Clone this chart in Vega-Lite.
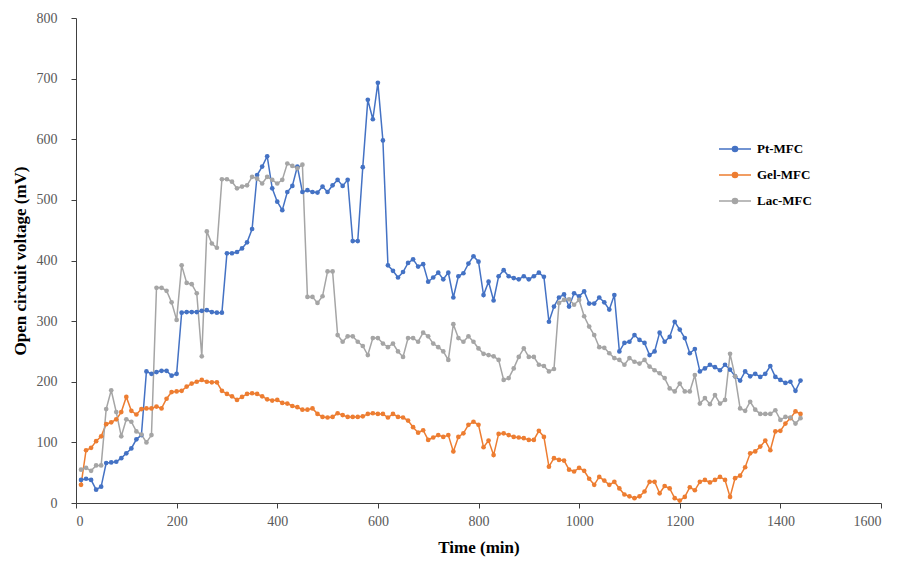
{
  "$schema": "https://vega.github.io/schema/vega-lite/v6.json",
  "width": 805,
  "height": 485,
  "autosize": {"type": "none"},
  "padding": {"left": 76, "top": 18, "right": 20, "bottom": 62},
  "background": "white",
  "config": {
    "view": {"stroke": null},
    "font": "Liberation Serif",
    "axis": {
      "grid": false,
      "domainColor": "#404040",
      "tickColor": "#404040",
      "labelFont": "Liberation Serif",
      "labelFontSize": 14,
      "labelColor": "#595959",
      "titleFont": "Liberation Serif",
      "titleFontSize": 17,
      "titleFontWeight": "bold",
      "titleColor": "#000000",
      "tickSize": 5
    }
  },
  "datasets": {
    "ocv": [
      {"t":10,"s":"Pt-MFC","v":38},{"t":20,"s":"Pt-MFC","v":40},{"t":30,"s":"Pt-MFC","v":38},{"t":40,"s":"Pt-MFC","v":22},{"t":50,"s":"Pt-MFC","v":27},
      {"t":60,"s":"Pt-MFC","v":66},{"t":70,"s":"Pt-MFC","v":67},{"t":80,"s":"Pt-MFC","v":68},{"t":90,"s":"Pt-MFC","v":74},{"t":100,"s":"Pt-MFC","v":82},
      {"t":110,"s":"Pt-MFC","v":90},{"t":120,"s":"Pt-MFC","v":105},{"t":130,"s":"Pt-MFC","v":112},{"t":140,"s":"Pt-MFC","v":217},{"t":150,"s":"Pt-MFC","v":213},
      {"t":160,"s":"Pt-MFC","v":216},{"t":170,"s":"Pt-MFC","v":218},{"t":180,"s":"Pt-MFC","v":218},{"t":190,"s":"Pt-MFC","v":210},{"t":200,"s":"Pt-MFC","v":213},
      {"t":210,"s":"Pt-MFC","v":314},{"t":220,"s":"Pt-MFC","v":315},{"t":230,"s":"Pt-MFC","v":315},{"t":240,"s":"Pt-MFC","v":315},{"t":250,"s":"Pt-MFC","v":317},
      {"t":260,"s":"Pt-MFC","v":318},{"t":270,"s":"Pt-MFC","v":315},{"t":280,"s":"Pt-MFC","v":314},{"t":290,"s":"Pt-MFC","v":314},{"t":300,"s":"Pt-MFC","v":412},
      {"t":310,"s":"Pt-MFC","v":412},{"t":320,"s":"Pt-MFC","v":414},{"t":330,"s":"Pt-MFC","v":420},{"t":340,"s":"Pt-MFC","v":430},{"t":350,"s":"Pt-MFC","v":452},
      {"t":360,"s":"Pt-MFC","v":541},{"t":370,"s":"Pt-MFC","v":555},{"t":380,"s":"Pt-MFC","v":572},{"t":390,"s":"Pt-MFC","v":519},{"t":400,"s":"Pt-MFC","v":497},
      {"t":410,"s":"Pt-MFC","v":483},{"t":420,"s":"Pt-MFC","v":513},{"t":430,"s":"Pt-MFC","v":523},{"t":440,"s":"Pt-MFC","v":555},{"t":450,"s":"Pt-MFC","v":513},
      {"t":460,"s":"Pt-MFC","v":516},{"t":470,"s":"Pt-MFC","v":513},{"t":480,"s":"Pt-MFC","v":512},{"t":490,"s":"Pt-MFC","v":522},{"t":500,"s":"Pt-MFC","v":513},
      {"t":510,"s":"Pt-MFC","v":524},{"t":520,"s":"Pt-MFC","v":533},{"t":530,"s":"Pt-MFC","v":523},{"t":540,"s":"Pt-MFC","v":533},{"t":550,"s":"Pt-MFC","v":432},
      {"t":560,"s":"Pt-MFC","v":432},{"t":570,"s":"Pt-MFC","v":554},{"t":580,"s":"Pt-MFC","v":665},{"t":590,"s":"Pt-MFC","v":633},{"t":600,"s":"Pt-MFC","v":693},
      {"t":610,"s":"Pt-MFC","v":598},{"t":620,"s":"Pt-MFC","v":392},{"t":630,"s":"Pt-MFC","v":383},{"t":640,"s":"Pt-MFC","v":372},{"t":650,"s":"Pt-MFC","v":381},
      {"t":660,"s":"Pt-MFC","v":396},{"t":670,"s":"Pt-MFC","v":402},{"t":680,"s":"Pt-MFC","v":390},{"t":690,"s":"Pt-MFC","v":394},{"t":700,"s":"Pt-MFC","v":365},
      {"t":710,"s":"Pt-MFC","v":372},{"t":720,"s":"Pt-MFC","v":380},{"t":730,"s":"Pt-MFC","v":369},{"t":740,"s":"Pt-MFC","v":380},{"t":750,"s":"Pt-MFC","v":339},
      {"t":760,"s":"Pt-MFC","v":374},{"t":770,"s":"Pt-MFC","v":379},{"t":780,"s":"Pt-MFC","v":395},{"t":790,"s":"Pt-MFC","v":407},{"t":800,"s":"Pt-MFC","v":398},
      {"t":810,"s":"Pt-MFC","v":343},{"t":820,"s":"Pt-MFC","v":365},{"t":830,"s":"Pt-MFC","v":334},{"t":840,"s":"Pt-MFC","v":374},{"t":850,"s":"Pt-MFC","v":384},
      {"t":860,"s":"Pt-MFC","v":374},{"t":870,"s":"Pt-MFC","v":371},{"t":880,"s":"Pt-MFC","v":369},{"t":890,"s":"Pt-MFC","v":374},{"t":900,"s":"Pt-MFC","v":369},
      {"t":910,"s":"Pt-MFC","v":374},{"t":920,"s":"Pt-MFC","v":380},{"t":930,"s":"Pt-MFC","v":373},{"t":940,"s":"Pt-MFC","v":299},{"t":950,"s":"Pt-MFC","v":324},
      {"t":960,"s":"Pt-MFC","v":339},{"t":970,"s":"Pt-MFC","v":344},{"t":980,"s":"Pt-MFC","v":324},{"t":990,"s":"Pt-MFC","v":346},{"t":1000,"s":"Pt-MFC","v":341},
      {"t":1010,"s":"Pt-MFC","v":349},{"t":1020,"s":"Pt-MFC","v":329},{"t":1030,"s":"Pt-MFC","v":329},{"t":1040,"s":"Pt-MFC","v":339},{"t":1050,"s":"Pt-MFC","v":331},
      {"t":1060,"s":"Pt-MFC","v":319},{"t":1070,"s":"Pt-MFC","v":343},{"t":1080,"s":"Pt-MFC","v":250},{"t":1090,"s":"Pt-MFC","v":264},{"t":1100,"s":"Pt-MFC","v":266},
      {"t":1110,"s":"Pt-MFC","v":277},{"t":1120,"s":"Pt-MFC","v":269},{"t":1130,"s":"Pt-MFC","v":264},{"t":1140,"s":"Pt-MFC","v":244},{"t":1150,"s":"Pt-MFC","v":250},
      {"t":1160,"s":"Pt-MFC","v":281},{"t":1170,"s":"Pt-MFC","v":266},{"t":1180,"s":"Pt-MFC","v":274},{"t":1190,"s":"Pt-MFC","v":299},{"t":1200,"s":"Pt-MFC","v":286},
      {"t":1210,"s":"Pt-MFC","v":272},{"t":1220,"s":"Pt-MFC","v":247},{"t":1230,"s":"Pt-MFC","v":254},{"t":1240,"s":"Pt-MFC","v":217},{"t":1250,"s":"Pt-MFC","v":222},
      {"t":1260,"s":"Pt-MFC","v":228},{"t":1270,"s":"Pt-MFC","v":224},{"t":1280,"s":"Pt-MFC","v":219},{"t":1290,"s":"Pt-MFC","v":228},{"t":1300,"s":"Pt-MFC","v":220},
      {"t":1310,"s":"Pt-MFC","v":209},{"t":1320,"s":"Pt-MFC","v":202},{"t":1330,"s":"Pt-MFC","v":217},{"t":1340,"s":"Pt-MFC","v":209},{"t":1350,"s":"Pt-MFC","v":213},
      {"t":1360,"s":"Pt-MFC","v":208},{"t":1370,"s":"Pt-MFC","v":213},{"t":1380,"s":"Pt-MFC","v":226},{"t":1390,"s":"Pt-MFC","v":208},{"t":1400,"s":"Pt-MFC","v":203},
      {"t":1410,"s":"Pt-MFC","v":198},{"t":1420,"s":"Pt-MFC","v":200},{"t":1430,"s":"Pt-MFC","v":185},{"t":1440,"s":"Pt-MFC","v":202},

      {"t":10,"s":"Gel-MFC","v":30},{"t":20,"s":"Gel-MFC","v":87},{"t":30,"s":"Gel-MFC","v":91},{"t":40,"s":"Gel-MFC","v":102},{"t":50,"s":"Gel-MFC","v":110},
      {"t":60,"s":"Gel-MFC","v":130},{"t":70,"s":"Gel-MFC","v":133},{"t":80,"s":"Gel-MFC","v":138},{"t":90,"s":"Gel-MFC","v":150},{"t":100,"s":"Gel-MFC","v":175},
      {"t":110,"s":"Gel-MFC","v":152},{"t":120,"s":"Gel-MFC","v":146},{"t":130,"s":"Gel-MFC","v":155},{"t":140,"s":"Gel-MFC","v":156},{"t":150,"s":"Gel-MFC","v":156},
      {"t":160,"s":"Gel-MFC","v":159},{"t":170,"s":"Gel-MFC","v":156},{"t":180,"s":"Gel-MFC","v":172},{"t":190,"s":"Gel-MFC","v":183},{"t":200,"s":"Gel-MFC","v":184},
      {"t":210,"s":"Gel-MFC","v":185},{"t":220,"s":"Gel-MFC","v":192},{"t":230,"s":"Gel-MFC","v":197},{"t":240,"s":"Gel-MFC","v":200},{"t":250,"s":"Gel-MFC","v":203},
      {"t":260,"s":"Gel-MFC","v":200},{"t":270,"s":"Gel-MFC","v":199},{"t":280,"s":"Gel-MFC","v":199},{"t":290,"s":"Gel-MFC","v":185},{"t":300,"s":"Gel-MFC","v":180},
      {"t":310,"s":"Gel-MFC","v":176},{"t":320,"s":"Gel-MFC","v":170},{"t":330,"s":"Gel-MFC","v":175},{"t":340,"s":"Gel-MFC","v":180},{"t":350,"s":"Gel-MFC","v":181},
      {"t":360,"s":"Gel-MFC","v":180},{"t":370,"s":"Gel-MFC","v":176},{"t":380,"s":"Gel-MFC","v":171},{"t":390,"s":"Gel-MFC","v":169},{"t":400,"s":"Gel-MFC","v":170},
      {"t":410,"s":"Gel-MFC","v":165},{"t":420,"s":"Gel-MFC","v":164},{"t":430,"s":"Gel-MFC","v":160},{"t":440,"s":"Gel-MFC","v":158},{"t":450,"s":"Gel-MFC","v":154},
      {"t":460,"s":"Gel-MFC","v":154},{"t":470,"s":"Gel-MFC","v":156},{"t":480,"s":"Gel-MFC","v":147},{"t":490,"s":"Gel-MFC","v":142},{"t":500,"s":"Gel-MFC","v":141},
      {"t":510,"s":"Gel-MFC","v":142},{"t":520,"s":"Gel-MFC","v":148},{"t":530,"s":"Gel-MFC","v":145},{"t":540,"s":"Gel-MFC","v":142},{"t":550,"s":"Gel-MFC","v":142},
      {"t":560,"s":"Gel-MFC","v":142},{"t":570,"s":"Gel-MFC","v":143},{"t":580,"s":"Gel-MFC","v":147},{"t":590,"s":"Gel-MFC","v":148},{"t":600,"s":"Gel-MFC","v":147},
      {"t":610,"s":"Gel-MFC","v":147},{"t":620,"s":"Gel-MFC","v":141},{"t":630,"s":"Gel-MFC","v":147},{"t":640,"s":"Gel-MFC","v":142},{"t":650,"s":"Gel-MFC","v":141},
      {"t":660,"s":"Gel-MFC","v":136},{"t":670,"s":"Gel-MFC","v":125},{"t":680,"s":"Gel-MFC","v":116},{"t":690,"s":"Gel-MFC","v":120},{"t":700,"s":"Gel-MFC","v":104},
      {"t":710,"s":"Gel-MFC","v":108},{"t":720,"s":"Gel-MFC","v":112},{"t":730,"s":"Gel-MFC","v":109},{"t":740,"s":"Gel-MFC","v":112},{"t":750,"s":"Gel-MFC","v":85},
      {"t":760,"s":"Gel-MFC","v":109},{"t":770,"s":"Gel-MFC","v":115},{"t":780,"s":"Gel-MFC","v":129},{"t":790,"s":"Gel-MFC","v":134},{"t":800,"s":"Gel-MFC","v":129},
      {"t":810,"s":"Gel-MFC","v":92},{"t":820,"s":"Gel-MFC","v":103},{"t":830,"s":"Gel-MFC","v":79},{"t":840,"s":"Gel-MFC","v":114},{"t":850,"s":"Gel-MFC","v":115},
      {"t":860,"s":"Gel-MFC","v":112},{"t":870,"s":"Gel-MFC","v":109},{"t":880,"s":"Gel-MFC","v":108},{"t":890,"s":"Gel-MFC","v":107},{"t":900,"s":"Gel-MFC","v":104},
      {"t":910,"s":"Gel-MFC","v":104},{"t":920,"s":"Gel-MFC","v":119},{"t":930,"s":"Gel-MFC","v":109},{"t":940,"s":"Gel-MFC","v":60},{"t":950,"s":"Gel-MFC","v":74},
      {"t":960,"s":"Gel-MFC","v":71},{"t":970,"s":"Gel-MFC","v":70},{"t":980,"s":"Gel-MFC","v":55},{"t":990,"s":"Gel-MFC","v":52},{"t":1000,"s":"Gel-MFC","v":58},
      {"t":1010,"s":"Gel-MFC","v":53},{"t":1020,"s":"Gel-MFC","v":40},{"t":1030,"s":"Gel-MFC","v":30},{"t":1040,"s":"Gel-MFC","v":43},{"t":1050,"s":"Gel-MFC","v":37},
      {"t":1060,"s":"Gel-MFC","v":30},{"t":1070,"s":"Gel-MFC","v":35},{"t":1080,"s":"Gel-MFC","v":24},{"t":1090,"s":"Gel-MFC","v":14},{"t":1100,"s":"Gel-MFC","v":11},
      {"t":1110,"s":"Gel-MFC","v":8},{"t":1120,"s":"Gel-MFC","v":11},{"t":1130,"s":"Gel-MFC","v":19},{"t":1140,"s":"Gel-MFC","v":35},{"t":1150,"s":"Gel-MFC","v":35},
      {"t":1160,"s":"Gel-MFC","v":16},{"t":1170,"s":"Gel-MFC","v":28},{"t":1180,"s":"Gel-MFC","v":24},{"t":1190,"s":"Gel-MFC","v":8},{"t":1200,"s":"Gel-MFC","v":4},
      {"t":1210,"s":"Gel-MFC","v":10},{"t":1220,"s":"Gel-MFC","v":26},{"t":1230,"s":"Gel-MFC","v":21},{"t":1240,"s":"Gel-MFC","v":35},{"t":1250,"s":"Gel-MFC","v":38},
      {"t":1260,"s":"Gel-MFC","v":34},{"t":1270,"s":"Gel-MFC","v":38},{"t":1280,"s":"Gel-MFC","v":43},{"t":1290,"s":"Gel-MFC","v":38},{"t":1300,"s":"Gel-MFC","v":10},
      {"t":1310,"s":"Gel-MFC","v":41},{"t":1320,"s":"Gel-MFC","v":45},{"t":1330,"s":"Gel-MFC","v":59},{"t":1340,"s":"Gel-MFC","v":82},{"t":1350,"s":"Gel-MFC","v":85},
      {"t":1360,"s":"Gel-MFC","v":93},{"t":1370,"s":"Gel-MFC","v":103},{"t":1380,"s":"Gel-MFC","v":87},{"t":1390,"s":"Gel-MFC","v":118},{"t":1400,"s":"Gel-MFC","v":119},
      {"t":1410,"s":"Gel-MFC","v":131},{"t":1420,"s":"Gel-MFC","v":140},{"t":1430,"s":"Gel-MFC","v":151},{"t":1440,"s":"Gel-MFC","v":147},

      {"t":10,"s":"Lac-MFC","v":55},{"t":20,"s":"Lac-MFC","v":58},{"t":30,"s":"Lac-MFC","v":53},{"t":40,"s":"Lac-MFC","v":62},{"t":50,"s":"Lac-MFC","v":62},
      {"t":60,"s":"Lac-MFC","v":155},{"t":70,"s":"Lac-MFC","v":186},{"t":80,"s":"Lac-MFC","v":150},{"t":90,"s":"Lac-MFC","v":110},{"t":100,"s":"Lac-MFC","v":138},
      {"t":110,"s":"Lac-MFC","v":134},{"t":120,"s":"Lac-MFC","v":118},{"t":130,"s":"Lac-MFC","v":113},{"t":140,"s":"Lac-MFC","v":100},{"t":150,"s":"Lac-MFC","v":112},
      {"t":160,"s":"Lac-MFC","v":355},{"t":170,"s":"Lac-MFC","v":355},{"t":180,"s":"Lac-MFC","v":350},{"t":190,"s":"Lac-MFC","v":331},{"t":200,"s":"Lac-MFC","v":302},
      {"t":210,"s":"Lac-MFC","v":392},{"t":220,"s":"Lac-MFC","v":363},{"t":230,"s":"Lac-MFC","v":361},{"t":240,"s":"Lac-MFC","v":346},{"t":250,"s":"Lac-MFC","v":242},
      {"t":260,"s":"Lac-MFC","v":448},{"t":270,"s":"Lac-MFC","v":428},{"t":280,"s":"Lac-MFC","v":421},{"t":290,"s":"Lac-MFC","v":534},{"t":300,"s":"Lac-MFC","v":534},
      {"t":310,"s":"Lac-MFC","v":530},{"t":320,"s":"Lac-MFC","v":519},{"t":330,"s":"Lac-MFC","v":522},{"t":340,"s":"Lac-MFC","v":524},{"t":350,"s":"Lac-MFC","v":538},
      {"t":360,"s":"Lac-MFC","v":535},{"t":370,"s":"Lac-MFC","v":527},{"t":380,"s":"Lac-MFC","v":538},{"t":390,"s":"Lac-MFC","v":533},{"t":400,"s":"Lac-MFC","v":527},
      {"t":410,"s":"Lac-MFC","v":533},{"t":420,"s":"Lac-MFC","v":560},{"t":430,"s":"Lac-MFC","v":556},{"t":440,"s":"Lac-MFC","v":552},{"t":450,"s":"Lac-MFC","v":558},
      {"t":460,"s":"Lac-MFC","v":340},{"t":470,"s":"Lac-MFC","v":340},{"t":480,"s":"Lac-MFC","v":330},{"t":490,"s":"Lac-MFC","v":341},{"t":500,"s":"Lac-MFC","v":382},
      {"t":510,"s":"Lac-MFC","v":382},{"t":520,"s":"Lac-MFC","v":277},{"t":530,"s":"Lac-MFC","v":266},{"t":540,"s":"Lac-MFC","v":275},{"t":550,"s":"Lac-MFC","v":275},
      {"t":560,"s":"Lac-MFC","v":266},{"t":570,"s":"Lac-MFC","v":259},{"t":580,"s":"Lac-MFC","v":244},{"t":590,"s":"Lac-MFC","v":272},{"t":600,"s":"Lac-MFC","v":272},
      {"t":610,"s":"Lac-MFC","v":263},{"t":620,"s":"Lac-MFC","v":257},{"t":630,"s":"Lac-MFC","v":263},{"t":640,"s":"Lac-MFC","v":250},{"t":650,"s":"Lac-MFC","v":241},
      {"t":660,"s":"Lac-MFC","v":272},{"t":670,"s":"Lac-MFC","v":272},{"t":680,"s":"Lac-MFC","v":266},{"t":690,"s":"Lac-MFC","v":281},{"t":700,"s":"Lac-MFC","v":275},
      {"t":710,"s":"Lac-MFC","v":263},{"t":720,"s":"Lac-MFC","v":257},{"t":730,"s":"Lac-MFC","v":250},{"t":740,"s":"Lac-MFC","v":236},{"t":750,"s":"Lac-MFC","v":295},
      {"t":760,"s":"Lac-MFC","v":272},{"t":770,"s":"Lac-MFC","v":266},{"t":780,"s":"Lac-MFC","v":275},{"t":790,"s":"Lac-MFC","v":266},{"t":800,"s":"Lac-MFC","v":255},
      {"t":810,"s":"Lac-MFC","v":246},{"t":820,"s":"Lac-MFC","v":244},{"t":830,"s":"Lac-MFC","v":242},{"t":840,"s":"Lac-MFC","v":236},{"t":850,"s":"Lac-MFC","v":203},
      {"t":860,"s":"Lac-MFC","v":206},{"t":870,"s":"Lac-MFC","v":222},{"t":880,"s":"Lac-MFC","v":241},{"t":890,"s":"Lac-MFC","v":255},{"t":900,"s":"Lac-MFC","v":241},
      {"t":910,"s":"Lac-MFC","v":241},{"t":920,"s":"Lac-MFC","v":228},{"t":930,"s":"Lac-MFC","v":226},{"t":940,"s":"Lac-MFC","v":217},{"t":950,"s":"Lac-MFC","v":221},
      {"t":960,"s":"Lac-MFC","v":330},{"t":970,"s":"Lac-MFC","v":335},{"t":980,"s":"Lac-MFC","v":336},{"t":990,"s":"Lac-MFC","v":327},{"t":1000,"s":"Lac-MFC","v":335},
      {"t":1010,"s":"Lac-MFC","v":308},{"t":1020,"s":"Lac-MFC","v":291},{"t":1030,"s":"Lac-MFC","v":277},{"t":1040,"s":"Lac-MFC","v":257},{"t":1050,"s":"Lac-MFC","v":256},
      {"t":1060,"s":"Lac-MFC","v":247},{"t":1070,"s":"Lac-MFC","v":239},{"t":1080,"s":"Lac-MFC","v":236},{"t":1090,"s":"Lac-MFC","v":228},{"t":1100,"s":"Lac-MFC","v":239},
      {"t":1110,"s":"Lac-MFC","v":233},{"t":1120,"s":"Lac-MFC","v":230},{"t":1130,"s":"Lac-MFC","v":236},{"t":1140,"s":"Lac-MFC","v":225},{"t":1150,"s":"Lac-MFC","v":219},
      {"t":1160,"s":"Lac-MFC","v":214},{"t":1170,"s":"Lac-MFC","v":206},{"t":1180,"s":"Lac-MFC","v":189},{"t":1190,"s":"Lac-MFC","v":184},{"t":1200,"s":"Lac-MFC","v":197},
      {"t":1210,"s":"Lac-MFC","v":184},{"t":1220,"s":"Lac-MFC","v":184},{"t":1230,"s":"Lac-MFC","v":211},{"t":1240,"s":"Lac-MFC","v":164},{"t":1250,"s":"Lac-MFC","v":173},
      {"t":1260,"s":"Lac-MFC","v":163},{"t":1270,"s":"Lac-MFC","v":178},{"t":1280,"s":"Lac-MFC","v":164},{"t":1290,"s":"Lac-MFC","v":170},{"t":1300,"s":"Lac-MFC","v":246},
      {"t":1310,"s":"Lac-MFC","v":209},{"t":1320,"s":"Lac-MFC","v":156},{"t":1330,"s":"Lac-MFC","v":152},{"t":1340,"s":"Lac-MFC","v":167},{"t":1350,"s":"Lac-MFC","v":154},
      {"t":1360,"s":"Lac-MFC","v":147},{"t":1370,"s":"Lac-MFC","v":147},{"t":1380,"s":"Lac-MFC","v":147},{"t":1390,"s":"Lac-MFC","v":153},{"t":1400,"s":"Lac-MFC","v":137},
      {"t":1410,"s":"Lac-MFC","v":142},{"t":1420,"s":"Lac-MFC","v":141},{"t":1430,"s":"Lac-MFC","v":131},{"t":1440,"s":"Lac-MFC","v":140}
    ]
  },
  "data": {"name": "ocv"},
  "encoding": {
    "x": {
      "field": "t", "type": "quantitative",
      "scale": {"domain": [0, 1600], "nice": false},
      "axis": {"values": [0,200,400,600,800,1000,1200,1400,1600], "format": "d", "title": "Time (min)", "titlePadding": 11, "labelPadding": 6}
    },
    "y": {
      "field": "v", "type": "quantitative",
      "scale": {"domain": [0, 800], "nice": false},
      "axis": {"values": [0,100,200,300,400,500,600,700,800], "format": "d", "title": "Open circuit voltage (mV)", "titlePadding": 7, "labelPadding": 14}
    },
    "color": {
      "field": "s", "type": "nominal",
      "scale": {"domain": ["Pt-MFC", "Gel-MFC", "Lac-MFC"], "range": ["#4472C4", "#ED7D31", "#A5A5A5"]},
      "legend": {
        "title": null,
        "orient": "none",
        "legendX": 642,
        "legendY": 114,
        "symbolType": "M-1,0L1,0M-0.16,0A0.16,0.16,0,1,1,0.16,0A0.16,0.16,0,1,1,-0.16,0Z",
        "symbolSize": 1024,
        "symbolStrokeWidth": 1.5,
        "labelFont": "Liberation Serif",
        "labelFontSize": 13,
        "labelFontWeight": "bold",
        "labelColor": "#000000",
        "labelOffset": 5,
        "rowPadding": 2,
        "encode": {"symbols": {"update": {"fill": {"scale": "color", "field": "value"}, "stroke": {"scale": "color", "field": "value"}}}}
      }
    },
    "order": {"field": "t", "type": "quantitative"}
  },
  "layer": [
    {"mark": {"type": "line", "strokeWidth": 1.5}},
    {"mark": {"type": "circle", "size": 22, "opacity": 1}}
  ]
}
